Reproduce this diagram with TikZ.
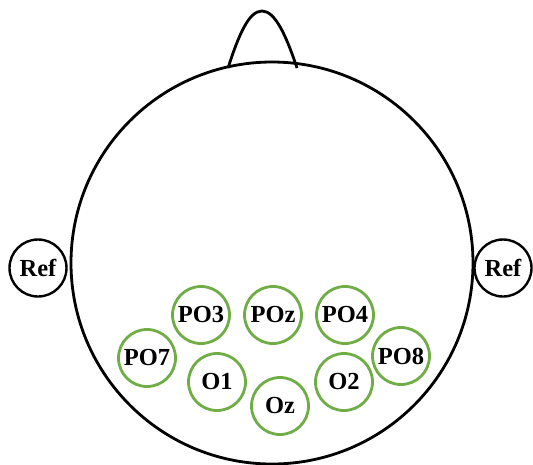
\documentclass[tikz,border=0pt]{standalone}
\usepackage{fontspec}
\setmainfont{Liberation Serif}
\definecolor{egreen}{RGB}{112,173,71}
\begin{document}
\begin{tikzpicture}[x=1pt,y=-1pt,
  elec/.style={circle,draw=egreen,line width=2.8pt,minimum size=57pt,inner sep=0pt,
    font=\fontsize{24.5}{26}\selectfont\bfseries},
  refel/.style={circle,draw=black,line width=2.4pt,minimum size=57pt,inner sep=0pt,
    font=\fontsize{24.5}{26}\selectfont\bfseries},
  headline/.style={draw=black,line width=2.8pt}]
\useasboundingbox (0,0) rectangle (533,464);
% head
\draw[headline] (272,263) circle[radius=201];
% nose
\draw[headline] (228,68) .. controls (239,34) and (249,11) .. (262,11)
  .. controls (275,11) and (286,35) .. (297,68);
% references
\node[refel] (refl) at (38,268) {Ref};
\node[refel] (refr) at (503,268) {Ref};
% electrodes
\node[elec] (po3) at (201,315) {PO3};
\node[elec] (poz) at (273,315) {POz};
\node[elec] (po4) at (345,315) {PO4};
\node[elec] (po7) at (147,358) {PO7};
\node[elec] (o1) at (217,382) {O1};
\node[elec] (oz) at (280,406) {Oz};
\node[elec] (o2) at (344,382) {O2};
\node[elec] (po8) at (401,356) {PO8};
\end{tikzpicture}
\end{document}
